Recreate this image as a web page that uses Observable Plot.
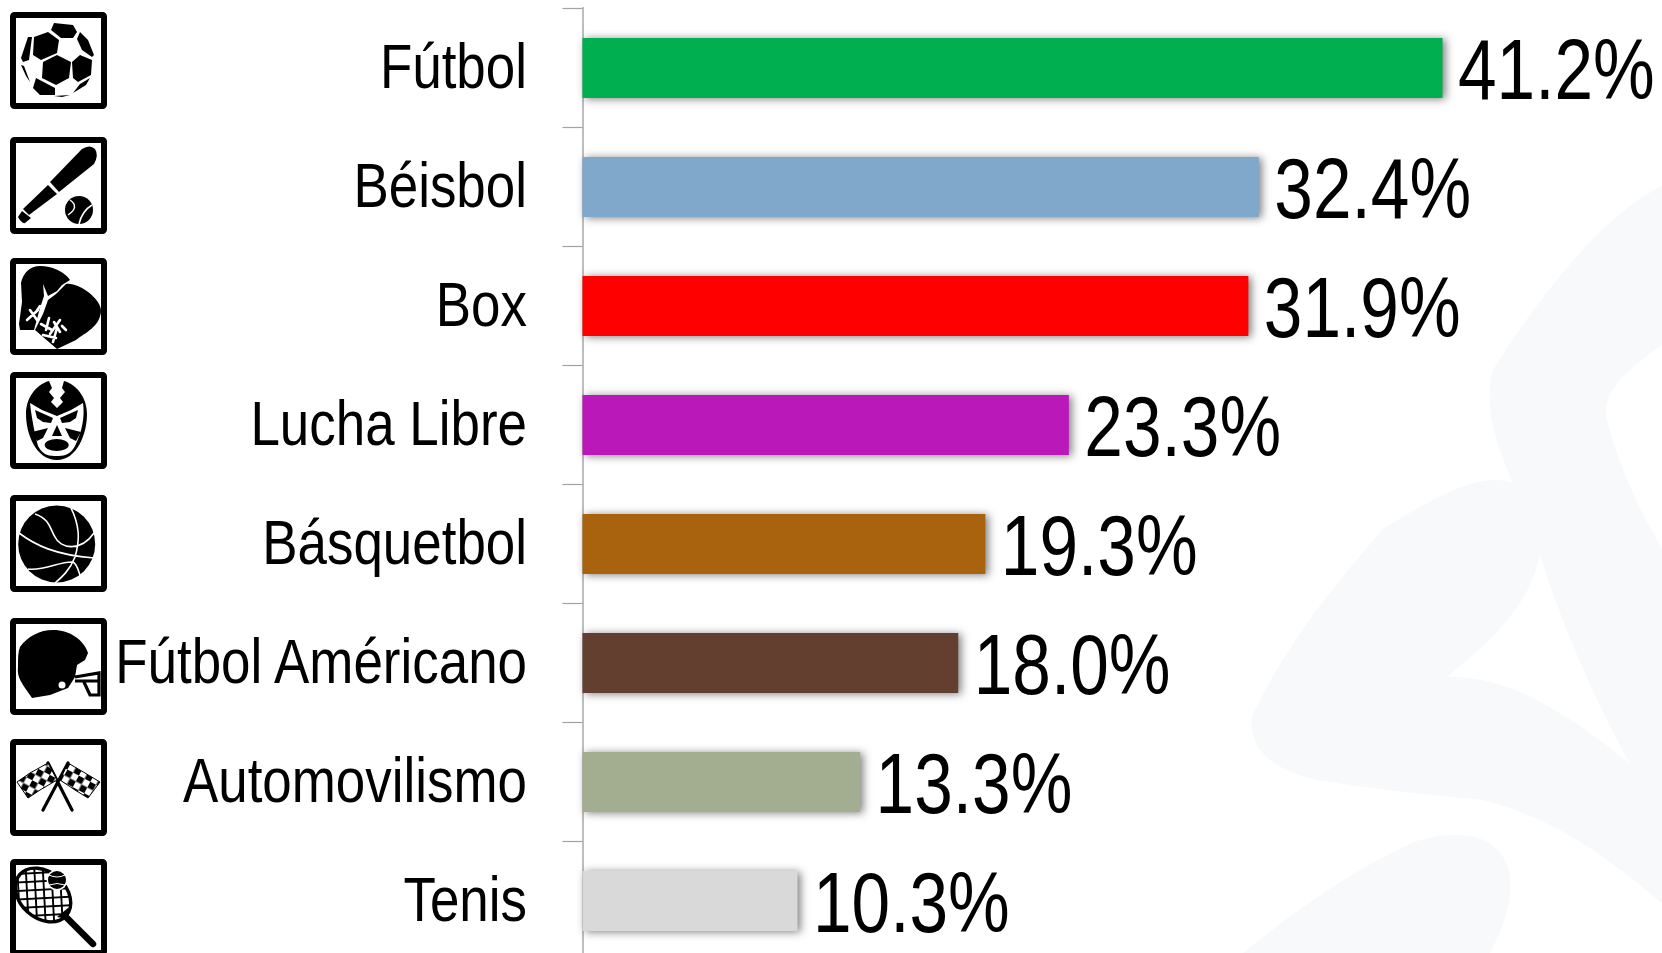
<!DOCTYPE html>
<html lang="es">
<head>
<meta charset="utf-8">
<title>Deportes</title>
<script src="https://cdn.jsdelivr.net/npm/d3@7"></script>
<script src="https://cdn.jsdelivr.net/npm/@observablehq/plot@0.6"></script>
<style>
html,body{margin:0;padding:0;background:#fff;overflow:hidden}
svg{display:block;max-width:none}
</style>
</head>
<body>
<div id="chart"></div>
<script>
const categories = ["Fútbol","Béisbol","Box","Lucha Libre","Básquetbol","Fútbol Américano","Automovilismo","Tenis"];
const values = [41.2,32.4,31.9,23.3,19.3,18.0,13.3,10.3];
const colors = ["#00b050","#7fa8cb","#ff0000","#ba18b8","#a9620e","#623f2f","#a3ae91","#d9d9d9"];
const iconTops = [12,137,258,372,495,618,739,859];
const rows = categories.map((name,i)=>({name,value:values[i]}));

const iconArt = [
// soccer
`<circle cx="47" cy="48" r="37" fill="#fff"/>
<path d="M47 43L61 50L59 66L46 73L32 66L33 50ZM38 20L49 28L47 41L31 48L23 43L24 25ZM44 11L63 13L67 20L63 26L51 26L41 18ZM70 20L78 28L84 43L82 45L72 38L67 27ZM70 43L82 48L81 63L68 70L63 66L62 50ZM18 25L11 46L13 50L19 48L22 25ZM11 53L14 54L20 70L16 64ZM26 66L45 76L45 83L30 83L23 76ZM80 66L76 73L63 81L70 72ZM44 84L60 83L52 85Z"/>`,
// baseball
`<path d="M72 12Q80 7 85 12Q89 18 84 27L49 55L40 45Z"/><path d="M38 48L47 57L19 78L13 72Z"/><path d="M12 74L21 81L15 86Q12 87 8 80Z"/>
<ellipse cx="69" cy="73" rx="14" ry="14"/><path d="M60 63Q70 70 58 78M82 68Q72 74 69 87" fill="none" stroke="#fff" stroke-width="1.5"/>`,
// glove
`<path d="M30 8C42 8 55 14 60 22L52 27L47 33L38 38L33 26L34 38L30 50L24 72L10 72L9 66L12 44L11 25C13 15 20 8 30 8Z"/>
<path d="M56 26C68 24 90 40 91 52C91 68 75 75 66 82L47 91L25 72L33 56L38 42L46 36Z"/>
<path d="M31 66L42 72M39 60L36 72M44 64L50 74M50 62L40 76M33 77L46 80M47 70L43 84M52 68L56 72M17 62L28 52M20 52L27 62M30 48L26 54" fill="none" stroke="#fff" stroke-width="2.6" stroke-linecap="round"/>`,
// mask
`<path d="M39 9C25 13 16 27 16 42C16 62 26 88 47 88C67 88 77 62 77 42C77 27 68 13 54 9L52 16L55 20L50 26L53 30L47 36L41 30L44 26L39 20L42 16Z"/>
<path d="M20 31L32 38L47 44L61 38L73 31C75 45 72 60 65 74C60 84 52 84 47 84C40 84 33 84 28 74C26 66 22 50 20 31Z" fill="#fff"/>
<path d="M25 38L43 46L41 51L33 50L27 46ZM68 38L50 46L52 51L60 50L66 46ZM47 53L42 64L52 64ZM22 60L38 56L33 66L27 69ZM71 60L55 56L60 66L66 69Z"/><ellipse cx="46.7" cy="73" rx="12" ry="6"/>`,
// basketball
`<circle cx="46.7" cy="49" r="38.5"/><path d="M25 19C40 24 40 34 45 42C50 53 70 58 84 38M60 11C70 30 70 45 65 62C60 75 52 82 45 88M9 38C25 50 45 60 84 63M18 74C35 76 50 66 63 67C68 70 68 76 71 83" fill="none" stroke="#fff" stroke-width="1.6"/>`,
// helmet
`<path d="M43 12C60 12 74 22 78 35L75 42L67 47L65 59L58 70L40 77L22 80L15 70C10 62 7 58 8 48C8 40 8 34 10 29C18 18 30 12 43 12Z"/><circle cx="52" cy="67" r="3.5" fill="#fff"/>
<path d="M65 59L89 55L89 77L80 77L73 62M65 63L89 63" fill="none" stroke="#000" stroke-width="3.2"/>`,
// flags
`<defs><pattern id="chk" width="13" height="13" patternUnits="userSpaceOnUse" patternTransform="rotate(28)"><rect width="13" height="13" fill="#fff"/><rect width="6.5" height="6.5"/><rect x="6.5" y="6.5" width="6.5" height="6.5"/></pattern></defs>
<path d="M62 71L38 24M33 71L58 24" stroke="#000" stroke-width="3.2" stroke-linecap="round"/>
<path d="M38 24L47 41L30 51L18 59L7 43L20 34Z" fill="url(#chk)" stroke="#000"/><path d="M58 24L50 41L65 51L78 59L90 43L75 34Z" fill="url(#chk)" stroke="#000"/>`,
// tennis
`<defs><pattern id="net" width="8.5" height="8.5" patternUnits="userSpaceOnUse" patternTransform="rotate(45)"><rect width="8.5" height="8.5" fill="#fff"/><path d="M0 0H8.5M0 0V8.5" stroke="#000" stroke-width="3.8"/></pattern></defs>
<ellipse cx="33" cy="36" rx="31" ry="23" transform="rotate(42 33 36)" fill="url(#net)" stroke="#000" stroke-width="3.4"/>
<path d="M57 59L83 85" stroke="#000" stroke-width="6.5" stroke-linecap="round"/><path d="M47 58L58 60L58 49Z"/>
<circle cx="47" cy="21" r="10.5" fill="#fff"/><circle cx="47" cy="21" r="9"/><path d="M39 16Q47 20 55 16M39 26Q47 23 55 26" fill="none" stroke="#fff" stroke-width="1"/>`
];

const watermark = () => {
  const g = d3.create("svg:g");
  g.html(`<path fill="#f8f9fb" d="M1662 186C1600 215 1530 310 1493 370C1485 400 1490 430 1513 483C1480 470 1430 500 1383 529C1330 590 1290 640 1253 713C1245 745 1270 770 1317 780C1380 790 1430 795 1483 800C1560 820 1610 860 1662 903Z"/>
<path fill="#fff" d="M1662 345C1625 370 1600 395 1607 420C1620 470 1640 510 1662 549Z"/>
<path fill="#fff" d="M1540 554C1530 610 1480 650 1447 677C1510 675 1570 715 1630 764C1590 690 1560 620 1540 554Z"/>
<path fill="#f8f9fb" d="M1510 877C1505 840 1470 825 1417 841C1350 870 1290 915 1243 953L1490 953C1505 925 1512 900 1510 877Z"/>`);
  return g.node();
};

const icons = () => {
  const g = d3.create("svg:g").attr("fill","#000");
  iconTops.forEach((top,i)=>{
    g.append("g").attr("transform",`translate(10,${top})`)
      .html(`<rect x="3" y="3" width="91" height="91" rx="1.5" fill="#fff" stroke="#000" stroke-width="6"/>${iconArt[i]}`);
  });
  return g.node();
};

const font = '"Liberation Sans","Arial",sans-serif';

const chart = Plot.plot({
  width:1662, height:953,
  marginTop:7, marginBottom:0, marginLeft:582.5, marginRight:219.5,
  style:{fontFamily:font, background:"#fff", color:"#000"},
  x:{domain:[0,41.2], axis:null},
  y:{type:"band", domain:categories, range:[7.5,959.5], padding:0, label:null},
  marks:[
    watermark,
    Plot.ruleX([0],{stroke:"#a3a3a3",strokeWidth:1.4}),
    Plot.ruleY(categories,{y:d=>d,dy:-59.5,x1:-0.96,x2:0,stroke:"#a3a3a3",strokeWidth:1.2}),
    Plot.barX(rows,{x:"value",y:"name",fill:(d,i)=>colors[i],insetTop:30,insetBottom:29,imageFilter:"drop-shadow(3px 1px 4px rgba(0,0,0,.5))"}),
    Plot.axisY({tickSize:0,tickPadding:56,fontSize:63,label:null,fill:"#000"}),
    Plot.text(rows,{x:"value",y:"name",text:d=>d.value.toFixed(1)+"%",textAnchor:"start",dx:15,dy:3,fontSize:86,fill:"#000"}),
    icons
  ]
});
document.getElementById("chart").append(chart);

// The reference uses a narrow face that is not installed: condense the glyphs of the real text.
chart.querySelectorAll("text").forEach(t=>{
  const size = parseFloat(getComputedStyle(t).fontSize);
  const ratio = size > 70 ? 0.807 : 0.84;
  t.setAttribute("textLength", (t.getComputedTextLength()*ratio).toFixed(1));
  t.setAttribute("lengthAdjust","spacingAndGlyphs");
});
</script>
</body>
</html>
